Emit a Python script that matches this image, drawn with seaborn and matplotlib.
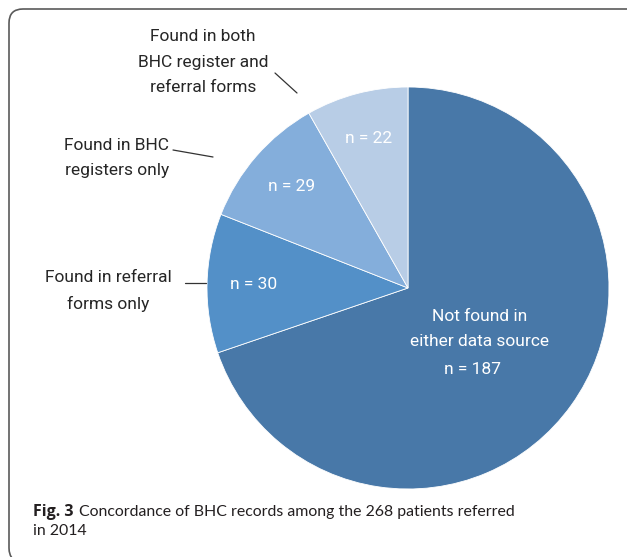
import matplotlib
matplotlib.use("Agg")
import matplotlib.pyplot as plt
import seaborn as sns
from matplotlib.patches import FancyBboxPatch

# datos del gráfico
categorias = ["Not found in\neither data source", "Found in referral\nforms only",
              "Found in BHC\nregisters only", "Found in both\nBHC register and\nreferral forms"]
valores = [187, 30, 29, 22]
colores = ["#4878A8", "#5390C8", "#84AEDB", "#B8CDE6"]
total = sum(valores)

sns.set_style("white")
plt.rcParams['font.family'] = ['Roboto', 'DejaVu Sans']

W, H = 627, 557
fig = plt.figure(figsize=(W / 100, H / 100), dpi=100)
ax = fig.add_axes([0, 0, 1, 1])
ax.set_xlim(0, W)
ax.set_ylim(0, H)
ax.set_aspect('equal')
ax.axis('off')


def fy(y):
    # coordenadas de pixel (origen arriba) a coordenadas del eje
    return H - y


# marco redondeado (abierto por la derecha y por abajo)
marco = FancyBboxPatch((9, fy(562)), 640, 553, boxstyle="round,pad=0,rounding_size=14",
                       fc="white", ec="#5a5a5a", lw=1.2, zorder=0, clip_on=False)
ax.add_patch(marco)

cx, cy, radio = 408, fy(288), 201
fs = 12.5
ls = 1.85
wedges, textos, autotextos = ax.pie(
    valores, colors=colores, startangle=90, counterclock=False,
    center=(cx, cy), radius=radio, pctdistance=0.77,
    autopct=lambda p: f"n = {round(p * total / 100)}",
    wedgeprops=dict(edgecolor="white", linewidth=0.6),
    textprops=dict(color="white", fontsize=fs))
ax.set_xlim(0, W)
ax.set_ylim(0, H)

# etiqueta del sector grande
autotextos[0].set_text("")
ax.text(480, fy(329), categorias[0], color="white", fontsize=fs,
        ha="center", va="center", linespacing=ls)
ax.text(473, fy(370), f"n = {valores[0]}", color="white", fontsize=fs,
        ha="center", va="center")

# etiquetas externas con líneas guía
ax.text(108, fy(291), categorias[1], fontsize=fs, ha="center", va="center", linespacing=ls)
ax.plot([185, 206], [fy(283), fy(283)], color="#333333", lw=0.9)

ax.text(117, fy(158), categorias[2], fontsize=fs, ha="center", va="center", linespacing=ls)
ax.plot([173, 213], [fy(150), fy(157)], color="#333333", lw=0.9)

ax.text(203, fy(62), categorias[3], fontsize=fs, ha="center", va="center", linespacing=ls)
ax.plot([275, 297], [fy(73), fy(93)], color="#333333", lw=0.9)

# pie de figura
ax.text(33, fy(512), "Fig. 3", fontsize=11.5, fontweight="bold", color="#231F20",
        ha="left", va="center", family=["Open Sans", "DejaVu Sans"])
ax.text(79, fy(512), "Concordance of BHC records among the 268 patients referred",
        fontsize=11.45, color="#231F20", ha="left", va="center", family=["Lato", "DejaVu Sans"])
ax.text(33, fy(531), "in 2014", fontsize=11.45, color="#231F20", ha="left", va="center",
        family=["Lato", "DejaVu Sans"])

fig.savefig("out.png", dpi=100)
